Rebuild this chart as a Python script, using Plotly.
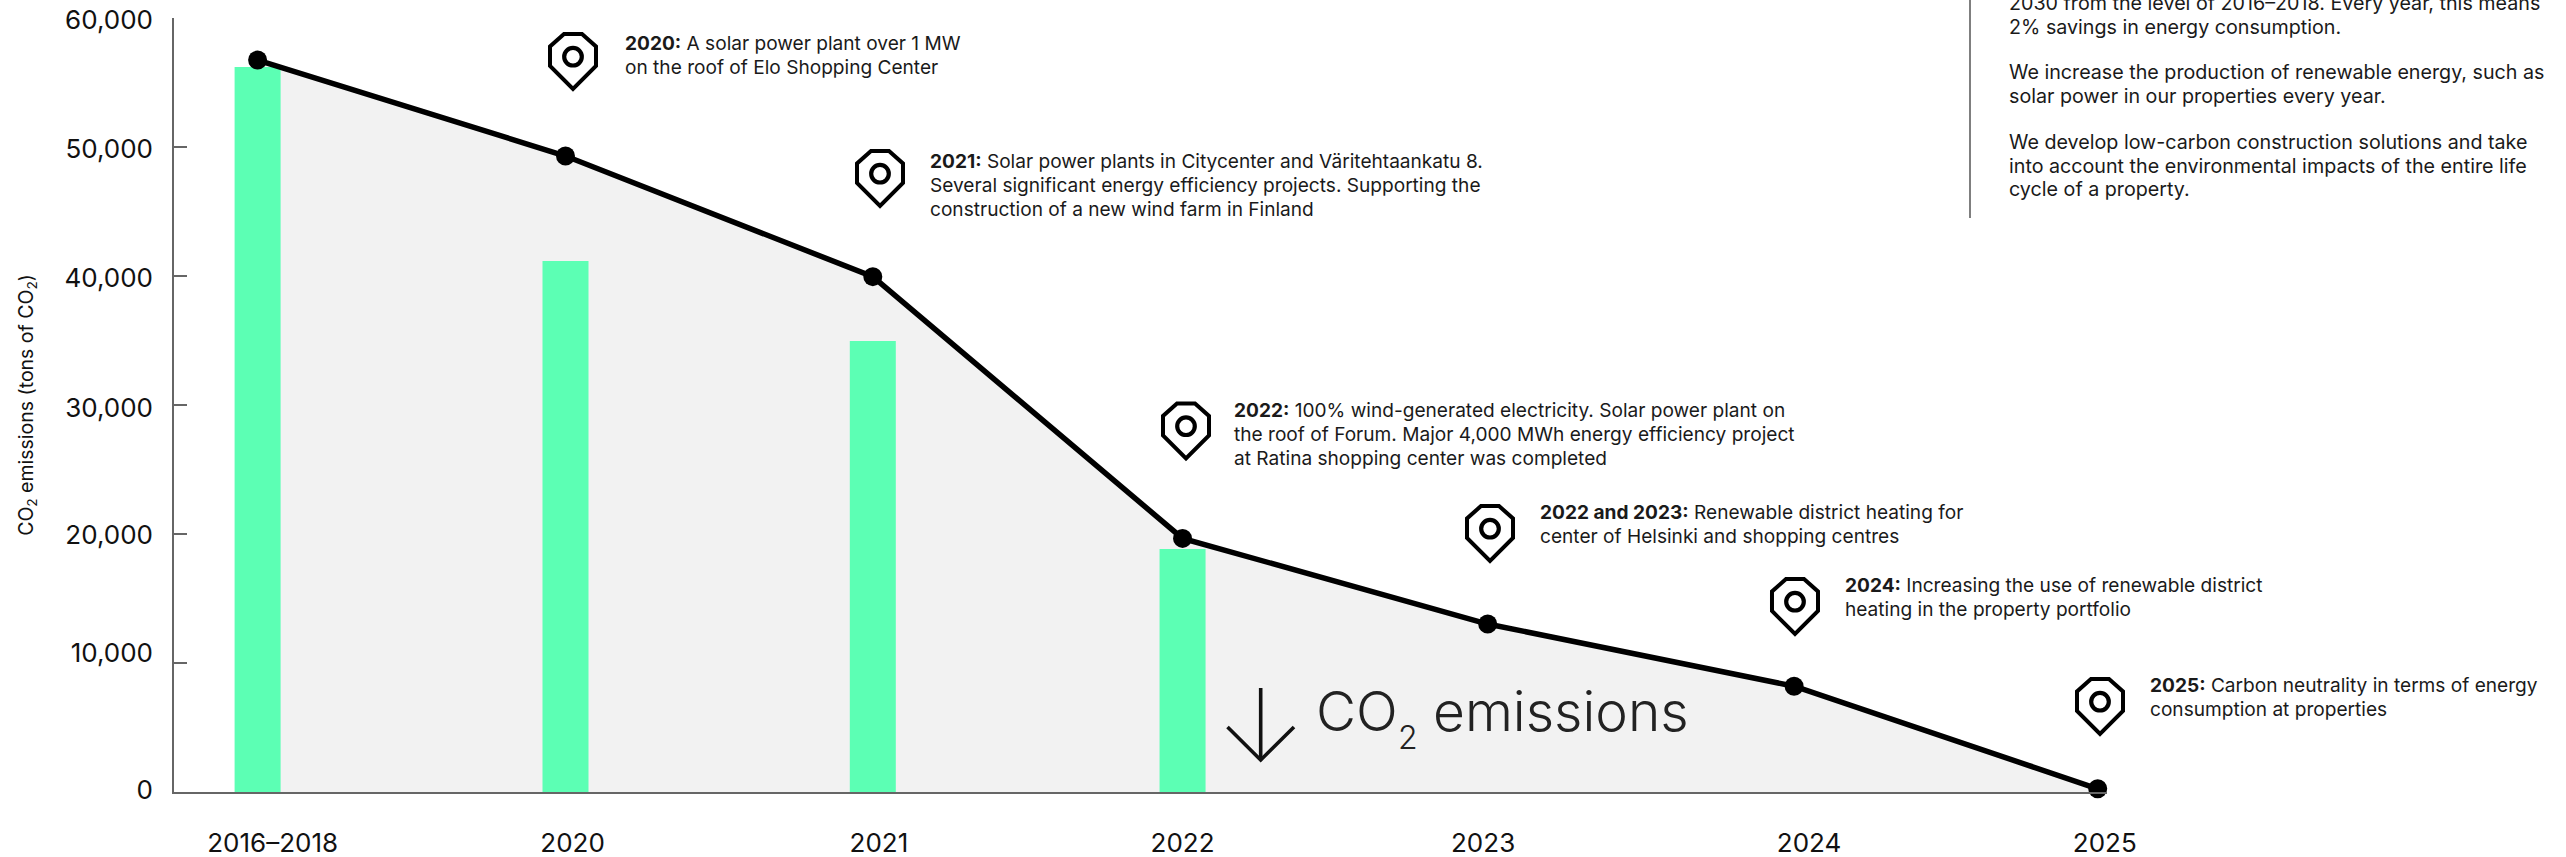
import plotly.graph_objects as go

# ---------- data ----------
categories = ["2016–2018", "2020", "2021", "2022", "2023", "2024", "2025"]
line_values = [56740, 49300, 39950, 19660, 13020, 8200, 250]
bar_values = [56200, 41160, 34960, 18840]
x_slots = [0, 1.004, 2.006, 3.016, 4.011, 5.010, 6.0]
x_label_offset = [0.049, 0.023, 0.020, 0.0, -0.015, 0.049, 0.023]
y_ticks = [0, 10000, 20000, 30000, 40000, 50000, 60000]
y_tick_labels = ["0", "10,000", "20,000", "30,000", "40,000", "50,000", "60,000"]
y_label_offset = [200, 800, -50, -230, -170, -130, -160]

notes = [
    (623, [43, 67], "2020:", ["A solar power plant over 1 MW", "on the roof of Elo Shopping Center"]),
    (928, [160.5, 185, 209], "2021:", ["Solar power plants in Citycenter and Väritehtaankatu 8.",
        "Several significant energy efficiency projects. Supporting the", "construction of a new wind farm in Finland"]),
    (1232, [410, 434, 458], "2022:", ["100% wind-generated electricity. Solar power plant on",
        "the roof of Forum. Major 4,000 MWh energy efficiency project", "at Ratina shopping center was completed"]),
    (1538, [512, 536], "2022 and 2023:", ["Renewable district heating for", "center of Helsinki and shopping centres"]),
    (1843, [584.5, 608.5], "2024:", ["Increasing the use of renewable district", "heating in the property portfolio"]),
    (2148, [684.5, 709], "2025:", ["Carbon neutrality in terms of energy", "consumption at properties"]),
]
pins = [(573, 32), (880, 149), (1186, 401.5), (1490, 504), (1795, 577), (2100, 677)]
side_lines = [
    (3, "2030 from the level of 2016–2018. Every year, this means"),
    (27, "2% savings in energy consumption."),
    (72, "We increase the production of renewable energy, such as"),
    (96, "solar power in our properties every year."),
    (142, "We develop low-carbon construction solutions and take"),
    (166, "into account the environmental impacts of the entire life"),
    (189, "cycle of a property."),
]

# ---------- layout constants ----------
W, H = 2566, 857
L, R, T, B = 174, 2107, 18, 792
FONT = "Inter"
TXT = "#1a1a1a"
unit = (2097.7 - 257.6) / 6
x_range = [-(257.6 - L) / unit, (R - 257.6) / unit]


def px(x):
    return (x - L) / (R - L)


def py(y):
    return (B - y) / (B - T)


def paper_path(points, close=False):
    d = "M" + " L".join(f"{px(x):.5f},{py(y):.5f}" for x, y in points)
    return d + (" Z" if close else "")


shapes = []
for cx, top in pins:
    outline = [(-9, 2), (9, 2), (23, 14.5), (23, 34), (0, 57), (-23, 34), (-23, 14.5)]
    shapes.append(dict(type="path", xref="paper", yref="paper", layer="above",
                       path=paper_path([(cx + a, top + b) for a, b in outline], True),
                       line=dict(color="#000", width=4), fillcolor="rgba(0,0,0,0)"))
    cy = top + 24.7
    shapes.append(dict(type="circle", xref="paper", yref="paper", layer="above",
                       x0=px(cx - 8.8), x1=px(cx + 8.8), y0=py(cy + 8.8), y1=py(cy - 8.8),
                       line=dict(color="#000", width=4.2), fillcolor="rgba(0,0,0,0)"))
# separator
shapes.append(dict(type="line", xref="paper", yref="paper", x0=px(1970), x1=px(1970), y0=py(-2), y1=py(218),
                   line=dict(color="#555", width=1.5)))
# down arrow
shapes.append(dict(type="path", xref="paper", yref="paper", layer="above",
                   path=paper_path([(1260.7, 688), (1260.7, 760)]), line=dict(color="#111", width=3.6)))
shapes.append(dict(type="path", xref="paper", yref="paper", layer="above",
                   path=paper_path([(1227.5, 727), (1260.7, 760), (1294, 727)]),
                   line=dict(color="#111", width=3.6), fillcolor="rgba(0,0,0,0)"))

ann = []


def text(x, y, s, size=19.1, color=TXT, weight=None):
    f = dict(family=FONT, size=size, color=color)
    if weight:
        f["weight"] = weight
    ann.append(dict(xref="paper", yref="paper", x=px(x), y=py(y), text=s, showarrow=False,
                    xanchor="left", yanchor="middle", align="left", font=f))


for x, ys, head, lines in notes:
    for i, (y, line) in enumerate(zip(ys, lines)):
        text(x, y, f"<b>{head}</b> {line}" if i == 0 else line)
for y, line in side_lines:
    text(2007, y, line, size=19.7)
text(1314, 711, "CO", size=55, color="#222", weight=300)
text(1396, 737, "2", size=32, color="#222", weight=300)
text(1431, 711, "emissions", size=55, color="#222", weight=300)

fig = go.Figure()
fig.add_trace(go.Scatter(x=x_slots, y=line_values, mode="none", fill="tozeroy",
                         fillcolor="#F2F2F2", hoverinfo="skip", xaxis="x", yaxis="y"))
fig.add_trace(go.Bar(x=x_slots[:len(bar_values)], y=bar_values, width=46 / unit,
                     marker=dict(color="#5CFFB4", line=dict(width=0)), xaxis="x2", yaxis="y2"))
fig.add_trace(go.Scatter(x=x_slots, y=line_values, mode="lines+markers", cliponaxis=False,
                         line=dict(color="#000", width=5.5), marker=dict(color="#000", size=19),
                         xaxis="x2", yaxis="y2"))

fig.update_layout(
    template="none",
    width=W, height=H, autosize=False,
    margin=dict(l=L, r=W - R, t=T, b=H - B, pad=0),
    paper_bgcolor="#fff", plot_bgcolor="#fff", showlegend=False, hovermode=False,
    font=dict(family=FONT, color="#111"),
    shapes=shapes, annotations=ann,
    xaxis=dict(range=x_range, automargin=False, showgrid=False, zeroline=False, showline=True, linecolor="#666", linewidth=2,
               ticks="", tickmode="array", tickvals=[s + o for s, o in zip(x_slots, x_label_offset)],
               ticktext=categories, tickfont=dict(family=FONT, size=26, color="#111"),
               ticklabelstandoff=27, anchor="y"),
    yaxis=dict(range=[0, 60000], automargin=False, showgrid=False, zeroline=False, showline=True, linecolor="#666", linewidth=1.5,
               ticks="inside", ticklen=13, tickwidth=1.5, tickcolor="#666", tickmode="array", tickvals=y_ticks,
               showticklabels=False, anchor="x"),
    xaxis2=dict(range=x_range, overlaying="x", visible=False, anchor="y2", automargin=False),
    yaxis2=dict(range=[0, 60000], overlaying="y", anchor="x2", side="left", automargin=False, showgrid=False, zeroline=False,
                showline=False, ticks="", tickmode="array",
                tickvals=[t + o for t, o in zip(y_ticks, y_label_offset)], ticktext=y_tick_labels,
                tickfont=dict(family=FONT, size=26, color="#111"), ticklabelstandoff=20,
                title=dict(text="CO<sub>2</sub> emissions (tons of CO<sub>2</sub>)",
                           font=dict(family=FONT, size=19.5, color="#111"), standoff=25)),
)

fig.write_html("out.html", config={"displayModeBar": False},
               post_script="document.body.style.margin='0';document.documentElement.style.overflow='hidden';")
